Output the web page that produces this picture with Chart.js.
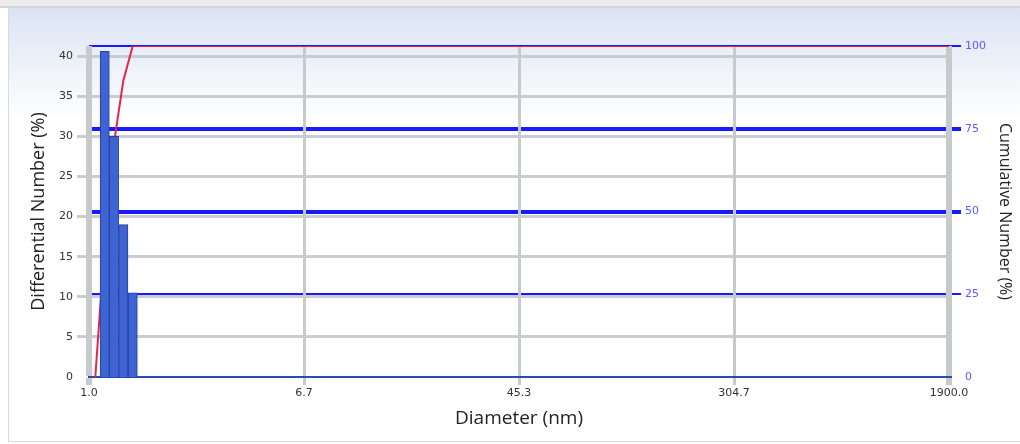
<!DOCTYPE html>
<html>
<head>
<meta charset="utf-8">
<script src="https://cdn.jsdelivr.net/npm/chart.js@4.4.1/dist/chart.umd.min.js"></script>
<style>
  html, body { margin: 0; padding: 0; background: #fff; }
</style>
</head>
<body>
<canvas id="size-chart" width="1020" height="444"></canvas>
<script>
// size distribution
const diameters = [1.148, 1.245, 1.352, 1.468];
const diffNumber = [40.6, 30.0, 19.0, 10.5];
const cumDiameters = [1.057, 1.148, 1.245, 1.352, 1.468, 1900];
const cumNumber = [0, 40.6, 70.6, 89.6, 100, 100];
const xTickLabels = ['1.0', '6.7', '45.3', '304.7', '1900.0'];
const leftTicks = [0, 5, 10, 15, 20, 25, 30, 35, 40];
const rightTicks = [0, 25, 50, 75, 100];
const xMin = 1;
const xMax = 1900;

const panelBackground = {
  id: 'panelBackground',
  beforeDraw(chart) {
    const { ctx, width, height } = chart;
    ctx.save();
    ctx.fillStyle = '#ffffff';
    ctx.fillRect(0, 0, width, height);
    ctx.fillStyle = '#ececec';
    ctx.fillRect(0, 0, width, 6);
    ctx.fillStyle = '#d4d4d4';
    ctx.fillRect(0, 6, width, 2);
    const grad = ctx.createLinearGradient(0, 8, 0, 120);
    grad.addColorStop(0, '#dbe3f3');
    grad.addColorStop(1, '#ffffff');
    ctx.fillStyle = grad;
    ctx.fillRect(9, 8, width - 9, height - 11);
    ctx.fillStyle = '#dadada';
    ctx.fillRect(8, 8, 1, height - 11);
    ctx.fillRect(8, height - 3, width - 8, 1);
    ctx.restore();
  },
};

new Chart(document.getElementById('size-chart').getContext('2d'), {
  type: 'bar',
  data: {
    datasets: [{
      type: 'bar',
      label: 'Differential Number',
      data: diameters.map((d, i) => ({ x: d, y: diffNumber[i] })),
      backgroundColor: '#3e63d2',
      borderColor: '#25409e',
      borderWidth: 1,
      barPercentage: 1,
      categoryPercentage: 1,
      yAxisID: 'y',
      order: 1,
    }, {
      type: 'line',
      label: 'Cumulative Number',
      data: cumDiameters.map((d, i) => ({ x: d, y: cumNumber[i] })),
      borderColor: '#e3264b',
      borderWidth: 2,
      pointRadius: 0,
      tension: 0,
      yAxisID: 'y1',
      order: 2,
    }],
  },
  options: {
    responsive: false,
    animation: false,
    layout: { padding: { left: 27, right: 5, top: 46, bottom: 12 } },
    plugins: {
      legend: { display: false },
      tooltip: { enabled: false },
    },
    scales: {
      x: {
        type: 'logarithmic',
        min: xMin,
        max: xMax,
        offset: false,
        afterBuildTicks: (scale) => {
          const span = Math.log10(xMax / xMin);
          scale.ticks = xTickLabels.map((_, i) => ({ value: xMin * Math.pow(10, span * i / (xTickLabels.length - 1)) }));
        },
        afterFit: (scale) => { scale.height = 55; },
        ticks: {
          autoSkip: false,
          maxRotation: 0,
          padding: 2,
          color: '#333',
          font: { family: 'DejaVu Sans', size: 11 },
          callback: (value, index) => xTickLabels[index],
        },
        grid: {
          offset: false,
          color: '#c6cacd',
          lineWidth: (ctx) => (ctx.index === 0 || ctx.index === xTickLabels.length - 1) ? 6 : 3,
          tickLength: 8,
          z: -1,
        },
        border: { color: '#2c48b2', width: 2 },
        title: {
          display: true,
          text: 'Diameter (nm)',
          color: '#222',
          padding: 2,
          font: { family: 'Open Sans', size: 19 },
        },
      },
      y: {
        position: 'left',
        min: 0,
        max: 41.27,
        afterBuildTicks: (scale) => {
          scale.ticks = leftTicks.map((v) => ({ value: v }));
        },
        afterFit: (scale) => { scale.width = 62; },
        ticks: {
          padding: 4,
          color: '#333',
          font: { family: 'DejaVu Sans', size: 11 },
        },
        grid: {
          color: '#c9ccd0',
          lineWidth: (ctx) => ctx.tick.value === 0 ? 0 : 3,
          tickLength: 12,
          z: -3,
        },
        border: { display: false },
        title: {
          display: true,
          text: 'Differential Number (%)',
          color: '#222',
          padding: 1,
          font: { family: 'Open Sans', size: 18 },
        },
      },
      y1: {
        position: 'right',
        min: 0,
        max: 100,
        afterBuildTicks: (scale) => {
          scale.ticks = rightTicks.map((v) => ({ value: v }));
        },
        afterFit: (scale) => { scale.width = 66; },
        ticks: {
          padding: 4,
          color: '#5a5aff',
          font: { family: 'DejaVu Sans', size: 11 },
        },
        grid: {
          color: '#1a1aff',
          lineWidth: (ctx) => {
            const v = ctx.tick.value;
            if (v === 0) return 0;
            return (v === 50 || v === 75) ? 4 : 2;
          },
          tickLength: 12,
          z: -2,
        },
        border: { display: false },
        title: {
          display: true,
          text: 'Cumulative Number (%)',
          color: '#222',
          padding: 1,
          font: { family: 'Open Sans', size: 16 },
        },
      },
    },
  },
  plugins: [panelBackground],
});
</script>
</body>
</html>
